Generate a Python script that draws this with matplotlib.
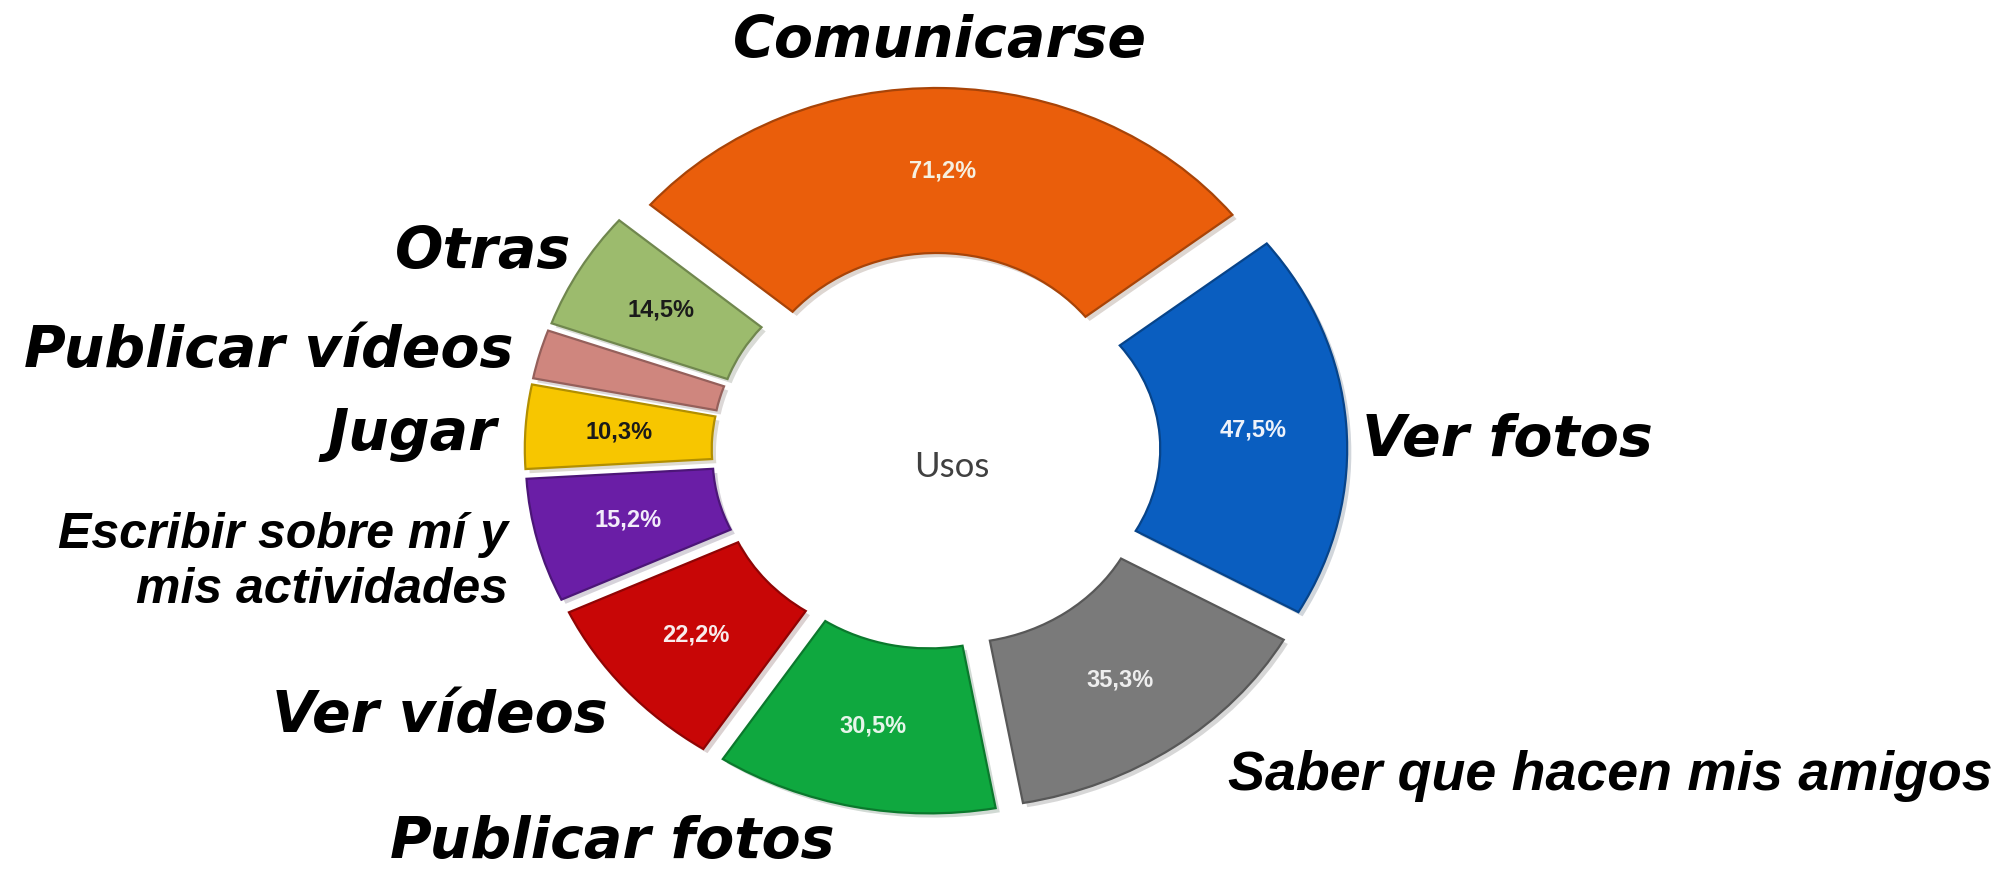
import matplotlib
matplotlib.use("Agg")
import matplotlib.pyplot as plt
import matplotlib.colors as mcolors
import matplotlib.patheffects as pe
from matplotlib import font_manager
import numpy as np

# ---------------- data ----------------
categories = ["Comunicarse", "Ver fotos", "Saber que hacen mis amigos",
              "Publicar fotos", "Ver vídeos",
              "Escribir sobre mí y\nmis actividades", "Jugar",
              "Publicar vídeos", "Otras"]
values = [71.2, 47.5, 35.3, 30.5, 22.2, 15.2, 10.3, 6.0, 14.5]
show_value = [True, True, True, True, True, True, True, False, True]
center_label = "Usos"

# ---------------- style ----------------
colors = ["#EA5E0B", "#0A5EC0", "#7A7A7A", "#0FA83F", "#C80606",
          "#6A1EA6", "#F7C600", "#CF867E", "#9CBB6D"]
pct_colors = ["#F6F0E0", "#EEF2FA", "#EEEEEE", "#E6F5EA", "#F8ECEC",
              "#F2ECFA", "#1A1A1A", "#1A1A1A", "#1A1A1A"]
# (x_px, baseline_y_px, ha, font-kind)
label_layout = [(940, 57, "center", "wide"),
                (1362, 456, "left", "wide"),
                (1228, 790, "left", "narrow"),
                (390, 858, "left", "wide"),
                (608, 732, "right", "wide"),
                (508, 548, "right", "narrow2"),
                (497, 450, "right", "wide"),
                (513, 367, "right", "wide"),
                (571, 268, "right", "wide")]

W, H = 2006, 875
SX = 1.133            # horizontal stretch of the doughnut
CX, CY = 936, 451     # doughnut centre in pixels
R, RING, EXPL = 332, 165, 31
START = 139.6


def available(name):
    try:
        font_manager.findfont(font_manager.FontProperties(family=name),
                              fallback_to_default=False)
        return True
    except Exception:
        return False


wide_font = "DejaVu Sans"
narrow_font = "Liberation Sans" if available("Liberation Sans") else "DejaVu Sans"
usos_font = "Lato" if available("Lato") else "DejaVu Sans"


def to_data(x, y):
    return x / SX, H - y


fig = plt.figure(figsize=(W / 100, H / 100), dpi=100)
fig.patch.set_facecolor("white")
ax = fig.add_axes([0, 0, 1, 1])

cxd, cyd = to_data(CX, CY)
wedges, _ = ax.pie(values, colors=colors, startangle=START, counterclock=False,
                   radius=R, center=(cxd, cyd), explode=[EXPL] * len(values),
                   wedgeprops=dict(width=RING, linewidth=1.6))
for w, c in zip(wedges, colors):
    rgb = np.array(mcolors.to_rgb(c))
    w.set_edgecolor(tuple(rgb * 0.72))
    w.set_path_effects([pe.SimplePatchShadow(offset=(3, -3), alpha=0.18),
                        pe.Normal()])

ax.set_aspect("auto")
ax.set_xlim(0, W / SX)
ax.set_ylim(0, H)
ax.axis("off")

# percentage labels in the middle of each ring segment
for w, v, s, tc in zip(wedges, values, show_value, pct_colors):
    if not s:
        continue
    th = np.deg2rad((w.theta1 + w.theta2) / 2)
    rm = w.r - w.width / 2
    x = w.center[0] + rm * np.cos(th)
    y = w.center[1] + rm * np.sin(th)
    ax.text(x, y, f"{v:.1f}%".replace(".", ","), ha="center", va="center",
            fontsize=17, fontweight="bold", family="Liberation Sans",
            color=tc)

# category labels
for cat, (x, y, ha, kind) in zip(categories, label_layout):
    lines = cat.split("\n")
    for i, line in enumerate(lines):
        if kind == "wide":
            fam, size = wide_font, 41
        elif kind == "narrow":
            fam, size = narrow_font, 40
        else:
            fam, size = narrow_font, 36
        xd, yd = to_data(x, y + i * 55)
        ax.text(xd, yd, line, ha=ha, va="baseline", fontsize=size,
                fontweight="bold", fontstyle="italic", family=fam,
                color="black")

ux, uy = to_data(952, 467)
ax.text(ux, uy, center_label, ha="center", va="center", fontsize=25,
        family=usos_font, color="#404040")

fig.savefig("out.png", dpi=100, facecolor="white")
